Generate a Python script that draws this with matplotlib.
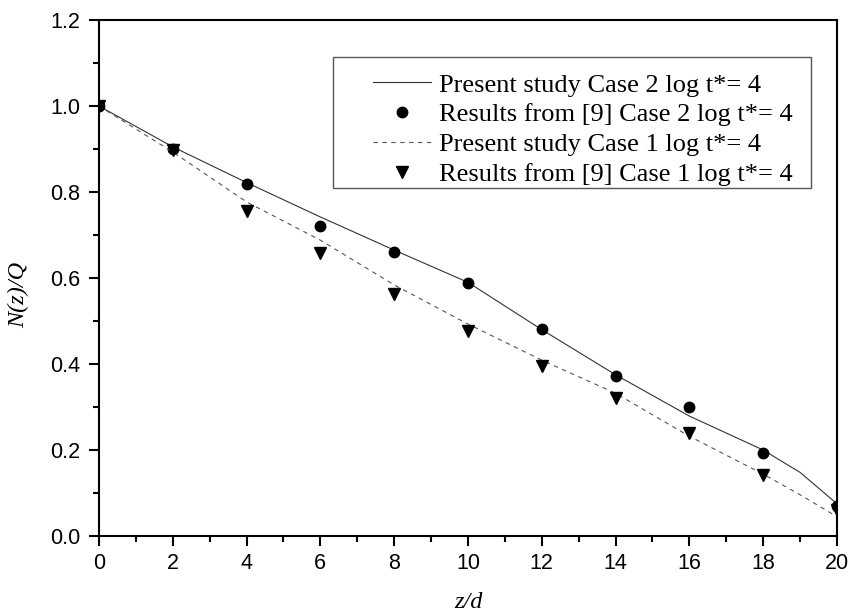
import matplotlib.pyplot as plt
from matplotlib.patches import Rectangle

# z/d positions
z = [0, 2, 4, 6, 8, 10, 12, 14, 16, 18, 19, 20]
# Present study, Case 2 (solid)
case2_line = [1.0, 0.905, 0.822, 0.742, 0.665, 0.59, 0.48, 0.375, 0.279, 0.200, 0.148, 0.075]
# Present study, Case 1 (dashed)
case1_line = [1.0, 0.893, 0.777, 0.688, 0.584, 0.493, 0.409, 0.332, 0.232, 0.144, 0.096, 0.045]

# Results from [9]
z_ref = [0, 2, 4, 6, 8, 10, 12, 14, 16, 18, 20]
case2_ref = [1.0, 0.90, 0.818, 0.721, 0.661, 0.589, 0.481, 0.373, 0.299, 0.193, 0.070]
case1_ref = [1.0, 0.897, 0.756, 0.659, 0.563, 0.477, 0.395, 0.322, 0.239, 0.142, 0.060]

fig = plt.figure(figsize=(8.51, 6.14), dpi=100)
ax = fig.add_axes([0.1163, 0.127, 0.8672, 0.8404])

ax.plot(z, case2_line, color='#333333', lw=0.8, label='Present study Case 2 log t*= 4')
ax.plot(z_ref, case2_ref, 'o', color='black', ms=7.5, label='Results from [9] Case 2 log t*= 4')
ax.plot(z, case1_line, color='#555555', lw=0.8, linestyle=(0, (4, 4)),
        label='Present study Case 1 log t*= 4')
ax.plot(z_ref, case1_ref, 'v', color='black', ms=8, label='Results from [9] Case 1 log t*= 4')

ax.set_xlim(0, 20)
ax.set_ylim(0, 1.2)
ax.xaxis.set_major_locator(plt.MultipleLocator(2))
ax.xaxis.set_minor_locator(plt.MultipleLocator(1))
ax.yaxis.set_major_locator(plt.MultipleLocator(0.2))
ax.yaxis.set_minor_locator(plt.MultipleLocator(0.1))
ax.yaxis.set_major_formatter(plt.FormatStrFormatter('%.1f'))

for s in ax.spines.values():
    s.set_linewidth(1.5)
ax.tick_params(which='major', direction='out', length=7, width=1.5, labelsize=15.5)
ax.tick_params(which='minor', direction='out', length=4, width=1.5)
ax.tick_params(axis='x', which='major', pad=5.5)
ax.tick_params(axis='y', which='major', pad=6.5)
for lab in ax.get_xticklabels() + ax.get_yticklabels():
    lab.set_family('Liberation Sans')

ax.set_xlabel('z/d', family='Liberation Serif', style='italic', fontsize=17.5, labelpad=13)
ax.set_ylabel('N(z)/Q', family='Liberation Serif', style='italic', fontsize=17.5)
ax.yaxis.set_label_coords(-0.095, 0.467)

# legend without frame, box drawn separately so the padding matches
leg = ax.legend(loc='upper left', bbox_to_anchor=(0.371, 0.897), borderaxespad=0,
                prop={'family': 'Liberation Serif', 'size': 19}, frameon=False,
                handlelength=2.2, handletextpad=0.3, labelspacing=0.24, borderpad=0)
ax.add_patch(Rectangle((0.317, 0.6744), 0.6477, 0.2539, transform=ax.transAxes,
                       fill=False, edgecolor='#555555', lw=1.0, zorder=5))

fig.savefig('out.png', dpi=100)
